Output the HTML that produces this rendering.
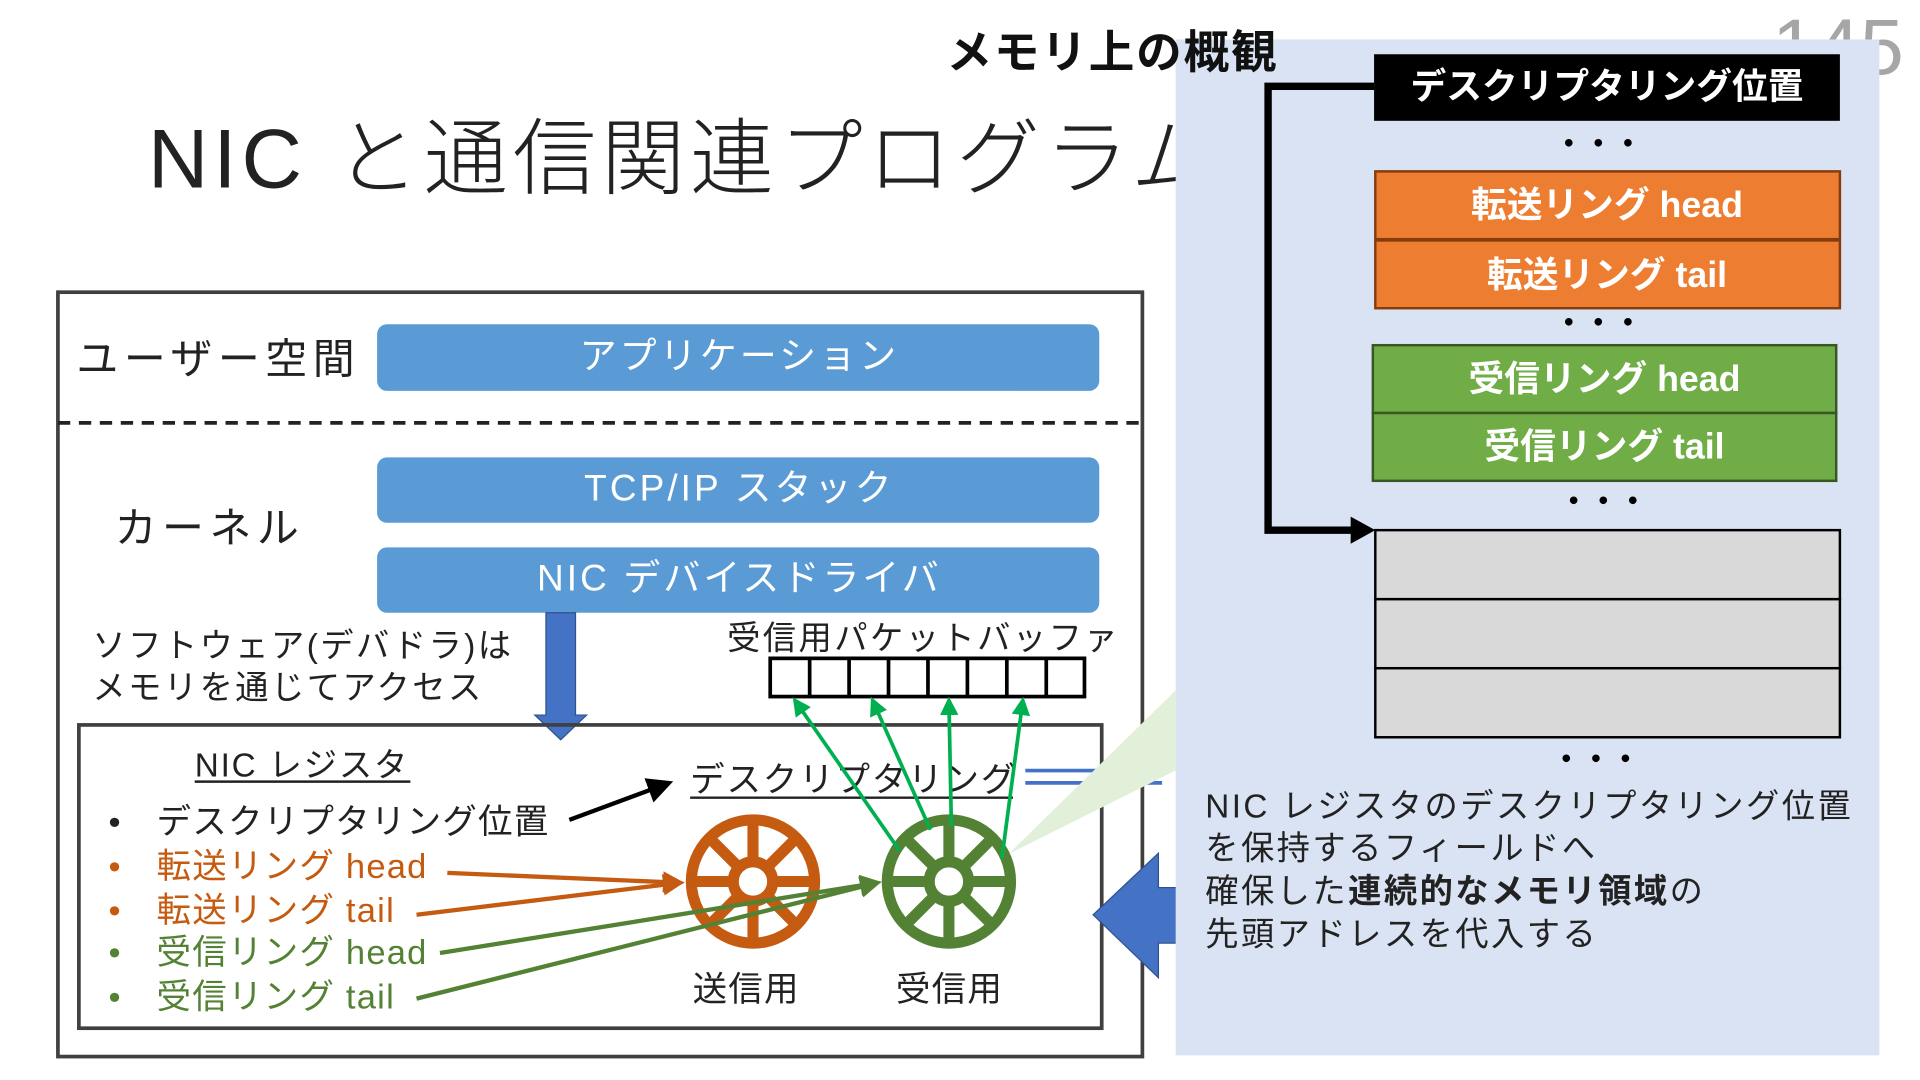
<!DOCTYPE html>
<html><head><meta charset="utf-8"><style>
html,body{margin:0;padding:0;background:#fff;width:1920px;height:1080px;overflow:hidden}
svg{display:block}
text{font-family:"Liberation Sans","Noto Sans CJK JP",sans-serif}
</style></head><body>
<svg width="1920" height="1080" viewBox="0 0 1558 876" preserveAspectRatio="none" xmlns="http://www.w3.org/2000/svg">
<defs>
<marker id="ab" markerWidth="6" markerHeight="6" refX="5" refY="3" orient="auto" markerUnits="strokeWidth"><path d="M0,0 L6,3 L0,6 z" fill="#000"/></marker>
<marker id="ao" markerWidth="5" markerHeight="5" refX="4" refY="2.5" orient="auto" markerUnits="strokeWidth"><path d="M0,0 L5,2.5 L0,5 z" fill="#c55a11"/></marker>
<marker id="ag" markerWidth="5" markerHeight="5" refX="4" refY="2.5" orient="auto" markerUnits="strokeWidth"><path d="M0,0 L5,2.5 L0,5 z" fill="#548235"/></marker>
<marker id="an" markerWidth="5" markerHeight="5" refX="4" refY="2.5" orient="auto" markerUnits="strokeWidth"><path d="M0,0 L5,2.5 L0,5 z" fill="#00b050"/></marker>
</defs>
<text x="1438" y="60" font-size="64" fill="#a6a6a6">145</text>
<text x="120" y="152" font-size="68" fill="#222" font-weight="300" letter-spacing="4">NIC と通信関連プログラム</text>

<rect x="47" y="237" width="880" height="620" fill="none" stroke="#404040" stroke-width="3"/>
<line x1="47" y1="343" x2="927" y2="343" stroke="#222" stroke-width="3" stroke-dasharray="10,7"/>
<text x="62" y="303" font-size="34" fill="#222" letter-spacing="4.5">ユーザー空間</text>
<text x="93" y="440" font-size="34" fill="#222" letter-spacing="4.5">カーネル</text>
<rect x="306" y="263" width="586" height="54" rx="8" fill="#5b9bd5"/>
<rect x="306" y="371" width="586" height="53" rx="8" fill="#5b9bd5"/>
<rect x="306" y="444" width="586" height="53" rx="8" fill="#5b9bd5"/>
<g font-size="30" fill="#fff" text-anchor="middle" letter-spacing="2.5">
<text x="600" y="299">アプリケーション</text>
<text x="600" y="406">TCP/IP スタック</text>
<text x="600" y="479">NIC デバイスドライバ</text>
</g>
<path d="M443,497 H467 V580 H476 L455,600 L434,580 H443 Z" fill="#4472c4" stroke="#2f528f" stroke-width="1"/>
<text x="75" y="533" font-size="27" fill="#222" letter-spacing="2">ソフトウェア(デバドラ)は</text>
<text x="75" y="567" font-size="27" fill="#222" letter-spacing="2">メモリを通じてアクセス</text>
<text x="590" y="527" font-size="27" fill="#222" letter-spacing="2">受信用パケットバッファ</text>
<g fill="none" stroke="#000" stroke-width="3">
<rect x="625" y="534" width="255" height="31"/>
<line x1="657" y1="534" x2="657" y2="565"/><line x1="689" y1="534" x2="689" y2="565"/><line x1="721" y1="534" x2="721" y2="565"/><line x1="753" y1="534" x2="753" y2="565"/><line x1="785" y1="534" x2="785" y2="565"/><line x1="817" y1="534" x2="817" y2="565"/><line x1="849" y1="534" x2="849" y2="565"/>
</g>
<rect x="64" y="588" width="830" height="246" fill="none" stroke="#404040" stroke-width="3"/>
<text x="158" y="630" font-size="27" fill="#222" letter-spacing="1.5">NIC レジスタ</text>
<line x1="158" y1="634" x2="333" y2="634" stroke="#222" stroke-width="2"/>
<g font-size="28" letter-spacing="1">
<text x="88" y="676" fill="#222">•</text><text x="127" y="676" fill="#222">デスクリプタリング位置</text>
<text x="88" y="712" fill="#c55a11">•</text><text x="127" y="712" fill="#c55a11">転送リング head</text>
<text x="88" y="748" fill="#c55a11">•</text><text x="127" y="748" fill="#c55a11">転送リング tail</text>
<text x="88" y="782" fill="#548235">•</text><text x="127" y="782" fill="#548235">受信リング head</text>
<text x="88" y="818" fill="#548235">•</text><text x="127" y="818" fill="#548235">受信リング tail</text>
</g>
<line x1="462" y1="665" x2="543" y2="635" stroke="#000" stroke-width="3.5" marker-end="url(#ab)"/>
<text x="560" y="642" font-size="28" fill="#222" letter-spacing="1.5">デスクリプタリング</text>
<line x1="560" y1="647" x2="822" y2="647" stroke="#222" stroke-width="2"/>
<line x1="832" y1="625" x2="943" y2="625" stroke="#4472c4" stroke-width="3"/>
<line x1="832" y1="635" x2="943" y2="635" stroke="#4472c4" stroke-width="3"/>
<polygon points="818,693 954,560 954,625" fill="#e2f0d9"/>
<g stroke="#c55a11" stroke-width="9" fill="none">
<circle cx="611" cy="715" r="50"/><circle cx="611" cy="715" r="16"/>
<path d="M611,665V699M611,731V765M561,715H595M627,715H661M576,680L600,704M622,726L646,750M646,680L622,704M600,726L576,750"/>
</g>
<g stroke="#548235" stroke-width="9" fill="none">
<circle cx="770" cy="715" r="50"/><circle cx="770" cy="715" r="16"/>
<path d="M770,665V699M770,731V765M720,715H754M786,715H820M735,680L759,704M781,726L805,750M805,680L781,704M759,726L735,750"/>
</g>
<line x1="363" y1="708" x2="552" y2="716" stroke="#c55a11" stroke-width="3.5" marker-end="url(#ao)"/>
<line x1="338" y1="742" x2="552" y2="716" stroke="#c55a11" stroke-width="3.5" marker-end="url(#ao)"/>
<line x1="357" y1="773" x2="712" y2="716" stroke="#548235" stroke-width="3.5" marker-end="url(#ag)"/>
<line x1="338" y1="810" x2="712" y2="716" stroke="#548235" stroke-width="3.5" marker-end="url(#ag)"/>
<g stroke="#00b050" stroke-width="3" marker-end="url(#an)">
<line x1="730" y1="690" x2="645" y2="568"/>
<line x1="755" y1="673" x2="708" y2="568"/>
<line x1="772" y1="670" x2="770" y2="568"/>
<line x1="813" y1="696" x2="830" y2="568"/>
</g>
<text x="562" y="812" font-size="28" fill="#222" letter-spacing="1">送信用</text>
<text x="727" y="812" font-size="28" fill="#222" letter-spacing="1">受信用</text>
<path d="M887,742 L940,692 V720 H980 V765 H940 V793 Z" fill="#4472c4" stroke="#2f528f" stroke-width="1"/>

<rect x="954" y="32" width="571" height="824" fill="#dae3f3"/>
<text x="768" y="55" font-size="37" font-weight="bold" fill="#111" letter-spacing="1.5">メモリ上の概観</text>
<path d="M1115,70 H1029 V430 H1100" fill="none" stroke="#000" stroke-width="6"/>
<path d="M1096,419 L1116,430 L1096,441 Z" fill="#000"/>
<rect x="1115" y="44" width="378" height="54" fill="#000"/>
<text x="1304" y="80" font-size="29" font-weight="bold" fill="#fff" text-anchor="middle">デスクリプタリング位置</text>
<g font-size="24" font-weight="bold" fill="#000" text-anchor="middle">
<text x="1297" y="125">・・・</text><text x="1297" y="270">・・・</text><text x="1301" y="415">・・・</text><text x="1295" y="624">・・・</text>
</g>
<rect x="1116" y="139" width="377" height="55" fill="#ed7d31" stroke="#843c0c" stroke-width="2"/>
<rect x="1116" y="195" width="377" height="55" fill="#ed7d31" stroke="#843c0c" stroke-width="2"/>
<rect x="1114" y="280" width="376" height="55" fill="#70ad47" stroke="#385723" stroke-width="2"/>
<rect x="1114" y="335" width="376" height="55" fill="#70ad47" stroke="#385723" stroke-width="2"/>
<g font-size="29" font-weight="bold" fill="#fff" text-anchor="middle">
<text x="1304" y="176">転送リング head</text>
<text x="1304" y="233">転送リング tail</text>
<text x="1302" y="317">受信リング head</text>
<text x="1302" y="372">受信リング tail</text>
</g>
<g fill="#d9d9d9" stroke="#000" stroke-width="2">
<rect x="1116" y="430" width="377" height="56"/><rect x="1116" y="486" width="377" height="56"/><rect x="1116" y="542" width="377" height="56"/>
</g>
<g font-size="27" fill="#222" letter-spacing="2">
<text x="978" y="663">NIC レジスタのデスクリプタリング位置</text>
<text x="978" y="697">を保持するフィールドへ</text>
<text x="978" y="732">確保した<tspan font-weight="bold">連続的なメモリ領域</tspan>の</text>
<text x="978" y="767">先頭アドレスを代入する</text>
</g>
</svg>
</body></html>
